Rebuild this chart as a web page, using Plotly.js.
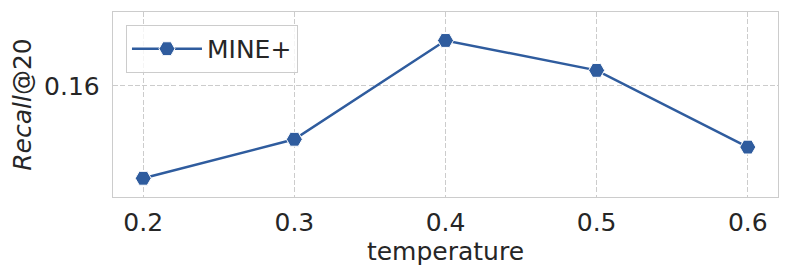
<!DOCTYPE html>
<html>
<head>
<meta charset="utf-8">
<script src="https://cdn.plot.ly/plotly-3.0.1.min.js"></script>
<style>html,body{margin:0;padding:0;background:#fff;}#chart{width:790px;height:278px;}</style>
</head>
<body>
<div id="chart"></div>
<script>
const temperatures = [0.2, 0.3, 0.4, 0.5, 0.6];
const recallValues = [0.1529, 0.1559, 0.1635, 0.1612, 0.1553];
const xTickLabels = ["0.2", "0.3", "0.4", "0.5", "0.6"];
const yTickValues = [0.16];
const yTickLabels = ["0.16"];
const seriesName = "MINE+";

const color = "#2f5c9e";
const textColor = "#262626";
const fontFamily = "DejaVu Sans, sans-serif";

const trace = {
  x: temperatures,
  y: recallValues,
  name: seriesName,
  type: "scatter",
  mode: "lines+markers",
  line: {color: color, width: 2.5},
  marker: {symbol: "hexagon2", size: 16, color: color, line: {color: "#ffffff", width: 1}}
};

const layout = {
  width: 790,
  height: 278,
  margin: {l: 113, r: 12, t: 12, b: 81},
  paper_bgcolor: "#ffffff",
  plot_bgcolor: "#ffffff",
  font: {family: fontFamily, size: 25, color: textColor},
  showlegend: true,
  legend: {
    x: 0.0195, y: 0.93, xanchor: "left", yanchor: "top",
    bgcolor: "rgba(255,255,255,0.8)", bordercolor: "#cccccc", borderwidth: 1,
    itemwidth: 70,
    font: {family: fontFamily, size: 25, color: textColor}
  },
  xaxis: {
    range: [0.18, 0.62],
    tickvals: temperatures,
    ticktext: xTickLabels,
    showgrid: true, gridcolor: "#cccccc", griddash: "5px,2.3px", gridwidth: 1,
    zeroline: false,
    showline: true, linecolor: "#cccccc", linewidth: 1.25, mirror: true,
    ticks: "", ticklabelstandoff: 3,
    tickfont: {family: fontFamily, size: 25, color: textColor},
    title: {text: "temperature", font: {family: fontFamily, size: 25, color: textColor}, standoff: 1}
  },
  yaxis: {
    range: [0.15146, 0.16569],
    tickvals: yTickValues,
    ticktext: yTickLabels,
    showgrid: true, gridcolor: "#cccccc", griddash: "5px,2.3px", gridwidth: 1,
    zeroline: false,
    showline: true, linecolor: "#cccccc", linewidth: 1.25, mirror: true,
    ticks: "", ticklabelstandoff: 7,
    automargin: true,
    tickfont: {family: fontFamily, size: 25, color: textColor},
    title: {text: "<i>Recall</i>@20", font: {family: fontFamily, size: 25, color: textColor}, standoff: 5}
  }
};

Plotly.newPlot("chart", [trace], layout, {displayModeBar: false, staticPlot: true});
</script>
</body>
</html>
